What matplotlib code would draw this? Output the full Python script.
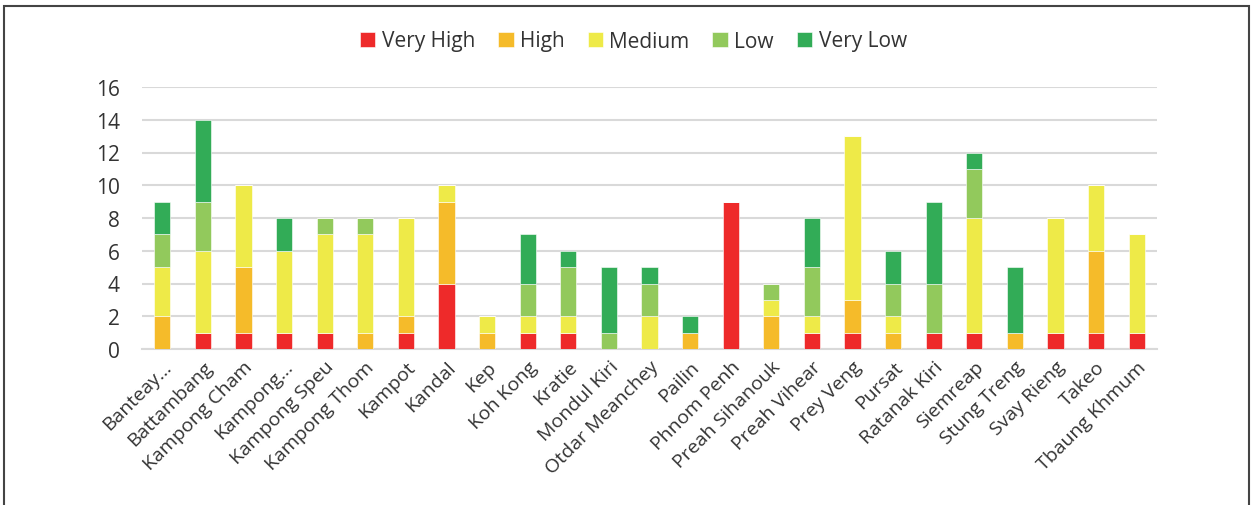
import numpy as np
import matplotlib.pyplot as plt
from matplotlib.patches import Rectangle

provinces = ['Banteay...', 'Battambang', 'Kampong Cham', 'Kampong...', 'Kampong Speu',
             'Kampong Thom', 'Kampot', 'Kandal', 'Kep', 'Koh Kong', 'Kratie',
             'Mondul Kiri', 'Otdar Meanchey', 'Pailin', 'Phnom Penh', 'Preah Sihanouk',
             'Preah Vihear', 'Prey Veng', 'Pursat', 'Ratanak Kiri', 'Siemreap',
             'Stung Treng', 'Svay Rieng', 'Takeo', 'Tbaung Khmum']

very_high = [0, 1, 1, 1, 1, 0, 1, 4, 0, 1, 1, 0, 0, 0, 9, 0, 1, 1, 0, 1, 1, 0, 1, 1, 1]
high      = [2, 0, 4, 0, 0, 1, 1, 5, 1, 0, 0, 0, 0, 1, 0, 2, 0, 2, 1, 0, 0, 1, 0, 5, 0]
medium    = [3, 5, 5, 5, 6, 6, 6, 1, 1, 1, 1, 0, 2, 0, 0, 1, 1, 10, 1, 0, 7, 0, 7, 4, 6]
low       = [2, 3, 0, 0, 1, 1, 0, 0, 0, 2, 3, 1, 2, 0, 0, 1, 3, 0, 2, 3, 3, 0, 0, 0, 0]
very_low  = [2, 5, 0, 2, 0, 0, 0, 0, 0, 3, 1, 4, 1, 1, 0, 0, 3, 0, 2, 5, 1, 4, 0, 0, 0]

series = [('Very High', very_high, '#ee2a2a'),
          ('High', high, '#f5bb2a'),
          ('Medium', medium, '#eeea48'),
          ('Low', low, '#92c95c'),
          ('Very Low', very_low, '#32ac57')]

plt.rcParams['font.family'] = ['Open Sans', 'DejaVu Sans']

fig = plt.figure(figsize=(12.54, 5.06), dpi=100)
ax = fig.add_axes([142 / 1254, 1 - 350 / 506, (1157 - 142) / 1254, (350 - 88) / 506])

x = np.arange(len(provinces))
bottom = np.zeros(len(provinces))
for name, vals, col in series:
    ax.bar(x, vals, 0.4, bottom=bottom, color=col, label=name,
           edgecolor='white', linewidth=0.4, zorder=3)
    bottom += np.array(vals)

ax.set_ylim(0, 16)
ax.set_xlim(-0.5, len(provinces) - 0.5)
ax.set_yticks(range(0, 17, 2))
ax.yaxis.grid(True, color='#d9d9d9', linewidth=1.5, zorder=0)
ax.set_axisbelow(True)
for s in ['top', 'right', 'left']:
    ax.spines[s].set_visible(False)
ax.spines['bottom'].set_color('#d9d9d9')
ax.spines['bottom'].set_linewidth(1.5)
ax.tick_params(axis='both', length=0, colors='#333333')
ax.tick_params(axis='y', pad=16, labelsize=15)
ax.tick_params(axis='x', pad=6, labelsize=14)
ax.set_xticks(x)
ax.set_xticklabels(provinces, rotation=45, ha='right', rotation_mode='anchor')

leg = fig.legend(loc='center', bbox_to_anchor=(0.505, 1 - 42 / 506), ncol=5,
                 frameon=False, fontsize=15, handlelength=0.75, handleheight=0.75,
                 handletextpad=0.3, columnspacing=1.1)
for t in leg.get_texts():
    t.set_color('#333333')

# outer frame like the source image
fig.patches.append(Rectangle((4 / 1254, -0.01), 1245 / 1254, 1 - 7 / 506 + 0.01,
                             transform=fig.transFigure, fill=False,
                             edgecolor='#444444', linewidth=1.5))

plt.savefig('out.png', dpi=100)
